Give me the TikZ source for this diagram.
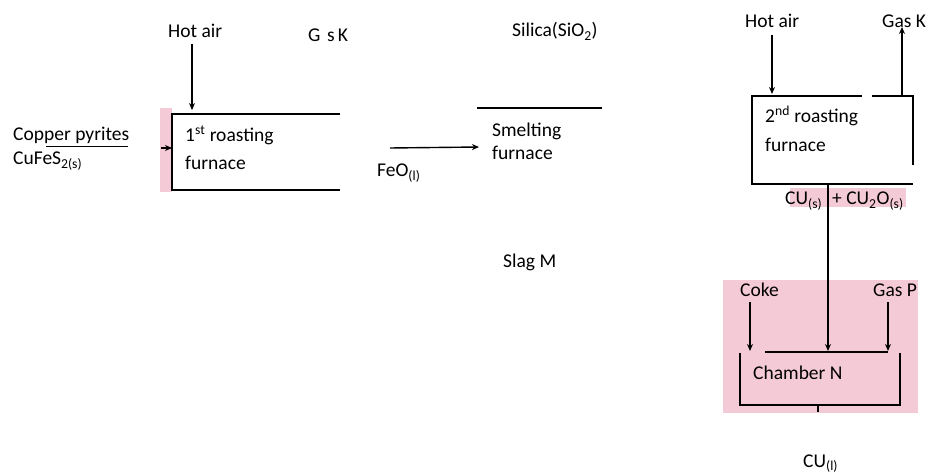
\documentclass[tikz,border=0pt]{standalone}
\usepackage{fontspec}
\setmainfont{Carlito}
\usetikzlibrary{arrows.meta}
\definecolor{pinkbg}{RGB}{245,202,215}
\newcommand{\sbs}[1]{\textsubscript{#1}}
\newcommand{\sps}[1]{\textsuperscript{#1}}
\begin{document}
\begin{tikzpicture}[x=1pt,y=-1pt,
  lbl/.style={anchor=base west,inner sep=0pt,font=\fontsize{19.5}{22}\selectfont},
  ln/.style={line width=1.4pt},
  arr/.style={line width=1.4pt,-{Stealth[length=7pt,width=6pt]}}]
\useasboundingbox (0,0) rectangle (930,473);
% pink highlights
\fill[pinkbg] (160,108) rectangle (172,192);
\fill[pinkbg] (790,188) rectangle (906,207);
\fill[pinkbg] (723,280) rectangle (918,413);
% texts
\node[lbl] (hot1) at (168,38) {Hot air};
\node[lbl] (gsk) at (308,42) {G\,\,s\,K};
\node[lbl] (cp) at (13,141) {Copper pyrites};
\node[lbl] (cfs) at (13,165) {CuFeS\sbs{2(s)}};
\node[lbl] (r1a) at (185,142) {1\sps{st} roasting};
\node[lbl] (r1b) at (185,170) {furnace};
\node[lbl] (feo) at (377,177) {FeO\sbs{(l)}};
\node[lbl] (sil) at (512,37) {Silica(SiO\sbs{2})};
\node[lbl] (sma) at (492,137) {Smelting};
\node[lbl] (smb) at (492,160) {furnace};
\node[lbl] (slag) at (503,268) {Slag M};
\node[lbl] (hot2) at (745,28) {Hot air};
\node[lbl] (gask) at (882,28) {Gas K};
\node[lbl] (r2a) at (765,123) {2\sps{nd} roasting};
\node[lbl] (r2b) at (765,152) {furnace};
\node[lbl] (cus) at (785,205) {CU\sbs{(s)}};
\node[lbl] (cuo) at (832,205) {+ CU\sbs{2}O\sbs{(s)}};
\node[lbl] (coke) at (740,297) {Coke};
\node[lbl] (gasp) at (873,297) {Gas P};
\node[lbl] (ch) at (753,380) {Chamber N};
\node[lbl] (cul) at (803,467) {CU\sbs{(l)}};
% coordinates
\coordinate (b1tl) at (172,114); \coordinate (b1tr) at (340,114);
\coordinate (b1bl) at (172,190); \coordinate (b1br) at (340,190);
\coordinate (ha1s) at (192,44); \coordinate (ha1e) at (192,110);
\coordinate (cpa) at (161,148); \coordinate (cpb) at (172,148);
\coordinate (ul1) at (46,147); \coordinate (ul2) at (128,147);
\coordinate (feos) at (390,148); \coordinate (feoe) at (479,147);
\coordinate (smtl) at (477,108); \coordinate (smtr) at (602,108);
\coordinate (b2tl) at (752,96); \coordinate (b2g1) at (862,96);
\coordinate (b2g2) at (872,96); \coordinate (b2tr) at (913,96);
\coordinate (b2rb) at (913,165);
\coordinate (b2bl) at (752,184); \coordinate (b2br) at (913,184);
\coordinate (ha2s) at (772,35); \coordinate (ha2e) at (772,94);
\coordinate (gks) at (902,96); \coordinate (gke) at (902,27);
\coordinate (vs) at (828,184); \coordinate (ve) at (828,351);
\coordinate (cks) at (750,302); \coordinate (cke) at (750,351);
\coordinate (gps) at (888,302); \coordinate (gpe) at (888,351);
\coordinate (chtl) at (765,352); \coordinate (chtr) at (888,352);
\coordinate (chl) at (740,353); \coordinate (chbl) at (740,405);
\coordinate (chr) at (900,353); \coordinate (chbr) at (900,405);
\coordinate (tk1) at (818,405); \coordinate (tk2) at (818,412);
% first furnace
\draw[ln] (b1tr) -- (b1tl) -- (b1bl) -- (b1br);
\draw[arr] (ha1s) -- (ha1e);
\draw[arr] (cpa) -- (cpb);
\draw[line width=1pt] (ul1) -- (ul2);
% smelting
\draw[arr] (feos) -- (feoe);
\draw[ln] (smtl) -- (smtr);
% second furnace
\draw[ln] (b2g1) -- (b2tl) -- (b2bl) -- (b2br);
\draw[ln] (b2g2) -- (b2tr) -- (b2rb);
\draw[arr] (ha2s) -- (ha2e);
\draw[arr] (gks) -- (gke);
\draw[arr] (vs) -- (ve);
% chamber
\draw[arr] (cks) -- (cke);
\draw[arr] (gps) -- (gpe);
\draw[ln] (chtl) -- (chtr);
\draw[ln] (chl) -- (chbl) -- (chbr) -- (chr);
\draw[ln] (tk1) -- (tk2);
\end{tikzpicture}
\end{document}
